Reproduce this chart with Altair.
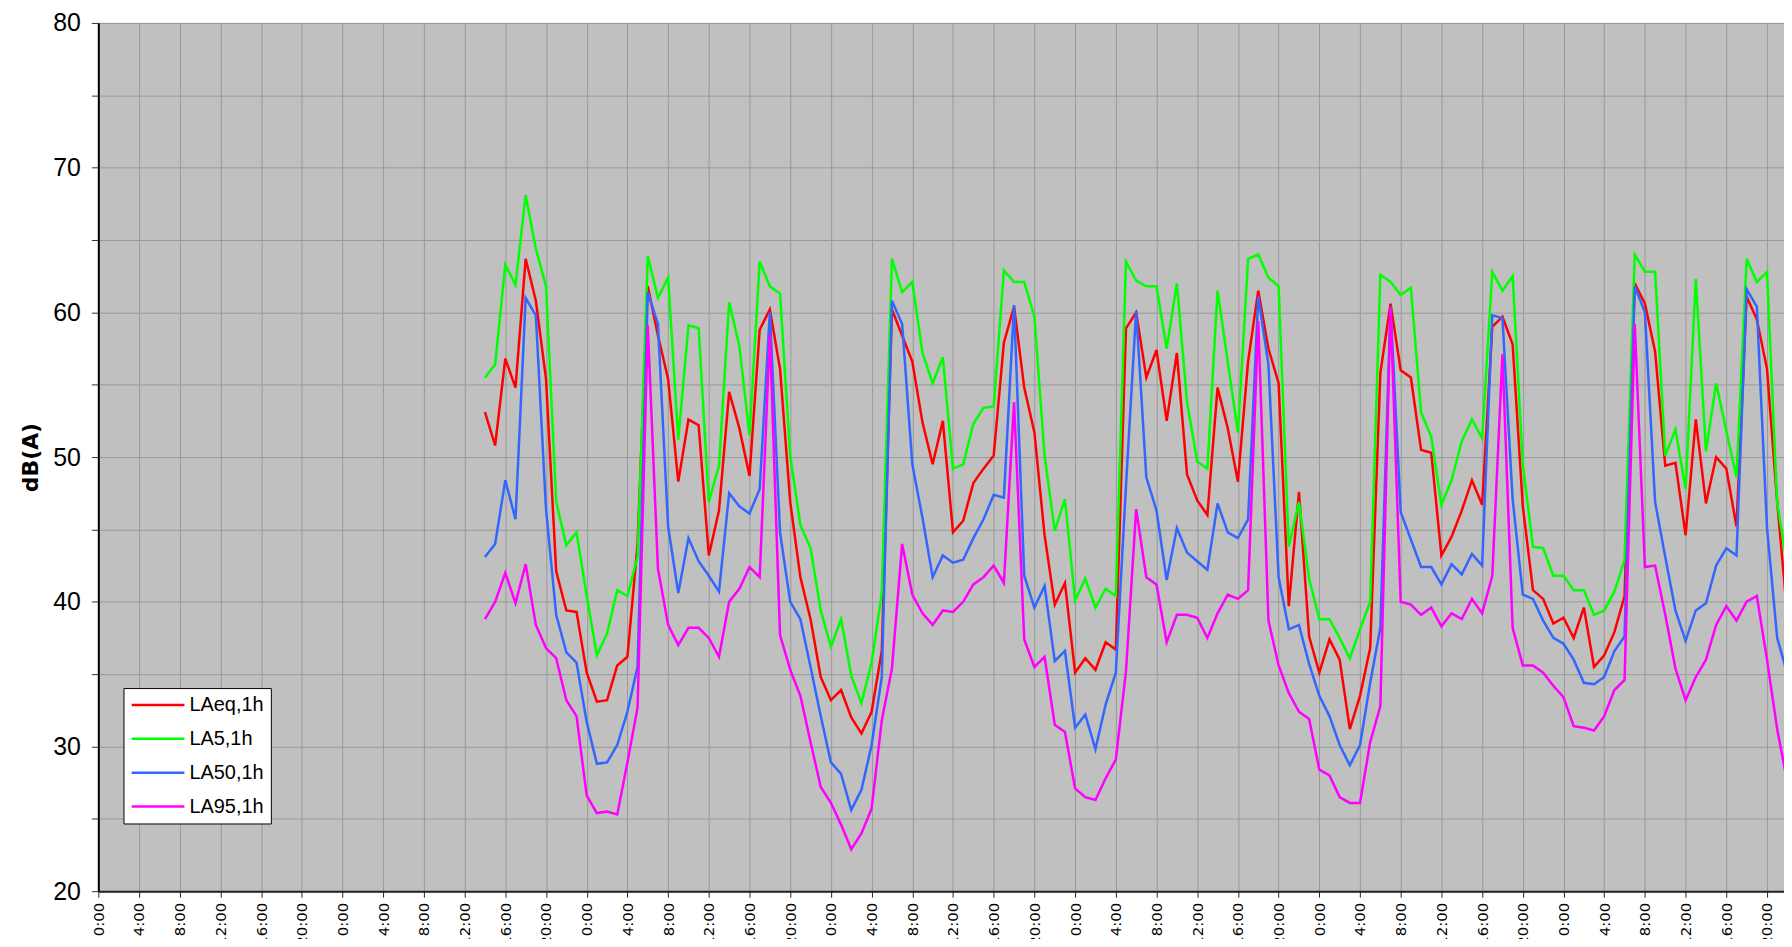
import altair as alt
import pandas as pd

hours = list(range(38, 167))

laeq = [
    53.1, 50.8, 56.8, 54.8, 63.7, 60.8, 55.4, 42.1, 39.4, 39.3,
    35.1, 33.1, 33.2, 35.6, 36.2, 44.0, 61.8, 58.4, 55.4, 48.3,
    52.6, 52.2, 43.2, 46.3, 54.5, 52.0, 48.7, 58.8, 60.2, 56.1,
    46.9, 41.7, 38.8, 34.8, 33.2, 33.9, 32.0, 30.9, 32.4, 36.6,
    60.2, 58.4, 56.6, 52.4, 49.5, 52.5, 44.8, 45.6, 48.2, 49.2,
    50.1, 57.9, 60.4, 54.8, 51.7, 44.6, 39.8, 41.3, 35.1, 36.1,
    35.3, 37.2, 36.7, 58.9, 60.0, 55.5, 57.4, 52.5, 57.2, 48.8,
    47.0, 46.0, 54.8, 52.0, 48.3, 56.6, 61.5, 57.5, 55.1, 39.7,
    47.6, 37.6, 35.1, 37.4, 36.0, 31.2, 33.5, 36.8, 55.8, 60.6,
    56.0, 55.5, 50.5, 50.3, 43.2, 44.5, 46.3, 48.4, 46.7, 59.0,
    59.7, 57.8, 46.6, 40.8, 40.2, 38.5, 38.9, 37.5, 39.6, 35.5,
    36.3, 37.9, 40.4, 62.0, 60.6, 57.3, 49.4, 49.6, 44.6, 52.6,
    46.8, 50.0, 49.2, 45.2, 61.1, 59.5, 56.1, 46.9, 39.0,
]

la5 = [
    55.5, 56.4, 63.3, 61.9, 68.1, 64.4, 61.8, 46.9, 43.9, 44.8,
    40.4, 36.3, 37.8, 40.8, 40.4, 43.1, 63.9, 61.0, 62.4, 51.2,
    59.1, 58.9, 46.9, 49.4, 60.7, 57.7, 51.5, 63.5, 61.8, 61.3,
    50.1, 45.3, 43.7, 39.4, 36.9, 38.8, 34.9, 33.0, 35.8, 40.6,
    63.7, 61.4, 62.1, 57.2, 55.1, 56.9, 49.2, 49.5, 52.3, 53.4,
    53.5, 62.9, 62.1, 62.1, 59.7, 50.1, 44.9, 47.1, 40.1, 41.6,
    39.6, 40.9, 40.4, 63.5, 62.2, 61.8, 61.8, 57.5, 62.0, 53.8,
    49.7, 49.2, 61.5, 56.6, 51.7, 63.7, 64.0, 62.4, 61.8, 43.8,
    46.9, 41.6, 38.8, 38.8, 37.5, 36.1, 38.1, 40.0, 62.6, 62.1,
    61.2, 61.7, 53.1, 51.4, 46.7, 48.4, 51.1, 52.6, 51.3, 62.8,
    61.5, 62.5, 49.5, 43.8, 43.7, 41.8, 41.8, 40.8, 40.8, 39.1,
    39.4, 40.7, 42.9, 64.0, 62.8, 62.8, 50.1, 51.9, 47.8, 62.3,
    50.4, 55.1, 51.8, 48.6, 63.7, 62.1, 62.8, 46.8, 42.5,
]

la50 = [
    43.1, 44.0, 48.4, 45.7, 61.0, 59.8, 46.4, 39.1, 36.5, 35.8,
    31.7, 28.8, 28.9, 30.1, 32.4, 35.5, 61.4, 59.2, 45.2, 40.6,
    44.4, 42.8, 41.8, 40.7, 47.5, 46.6, 46.1, 47.8, 60.0, 44.8,
    40.0, 38.8, 35.5, 32.1, 28.9, 28.1, 25.6, 27.0, 30.1, 34.8,
    60.8, 59.2, 49.5, 45.8, 41.7, 43.2, 42.7, 42.9, 44.4, 45.7,
    47.4, 47.2, 60.5, 41.8, 39.6, 41.1, 35.9, 36.6, 31.3, 32.2,
    29.8, 32.9, 35.1, 48.0, 60.1, 48.6, 46.3, 41.5, 45.1, 43.4,
    42.8, 42.2, 46.8, 44.8, 44.4, 45.7, 61.1, 56.4, 41.7, 38.1,
    38.4, 35.7, 33.5, 32.1, 30.1, 28.7, 30.1, 34.4, 38.2, 60.4,
    46.2, 44.3, 42.4, 42.4, 41.2, 42.6, 41.9, 43.3, 42.5, 59.8,
    59.6, 47.1, 40.5, 40.2, 38.7, 37.5, 37.1, 36.0, 34.4, 34.3,
    34.8, 36.6, 37.6, 61.8, 60.0, 46.9, 43.1, 39.4, 37.3, 39.4,
    39.9, 42.5, 43.7, 43.2, 61.6, 60.4, 45.1, 37.5, 35.0,
]

la95 = [
    38.8, 40.0, 42.0, 39.9, 42.6, 38.4, 36.8, 36.1, 33.2, 32.1,
    26.6, 25.4, 25.5, 25.3, 28.9, 32.7, 59.1, 42.3, 38.4, 37.0,
    38.2, 38.2, 37.5, 36.2, 40.0, 40.9, 42.4, 41.7, 58.5, 37.7,
    35.3, 33.5, 30.3, 27.2, 26.1, 24.6, 22.9, 24.0, 25.7, 31.8,
    35.4, 44.0, 40.5, 39.2, 38.4, 39.4, 39.3, 40.0, 41.2, 41.7,
    42.5, 41.3, 53.8, 37.4, 35.5, 36.2, 31.5, 31.0, 27.1, 26.5,
    26.3, 27.8, 29.1, 35.2, 46.4, 41.7, 41.2, 37.2, 39.1, 39.1,
    38.9, 37.5, 39.2, 40.5, 40.2, 40.8, 59.4, 38.7, 35.6, 33.7,
    32.4, 31.9, 28.4, 28.0, 26.5, 26.1, 26.1, 30.3, 32.8, 60.3,
    40.0, 39.8, 39.1, 39.6, 38.3, 39.2, 38.8, 40.2, 39.2, 41.8,
    57.1, 38.2, 35.6, 35.6, 35.1, 34.2, 33.4, 31.4, 31.3, 31.1,
    32.1, 33.9, 34.6, 59.2, 42.4, 42.5, 39.1, 35.4, 33.2, 34.8,
    36.0, 38.4, 39.7, 38.7, 40.0, 40.4, 36.0, 31.2, 27.5,
]

series_names = ["LAeq,1h", "LA5,1h", "LA50,1h", "LA95,1h"]
series_colors = ["#FF0000", "#00FF00", "#3366FF", "#FF00FF"]
tick_hours = list(range(0, 165, 4))
y_ticks = list(range(20, 81, 5))

rows = []
for order, (name, vals) in enumerate(zip(series_names, [laeq, la5, la50, la95])):
    for h, v in zip(hours, vals):
        rows.append({"hour": h, "value": v, "series": name, "order": order})
df = pd.DataFrame(rows)

chart = alt.Chart(df).mark_line(strokeWidth=2.5, clip=True).encode(
    x=alt.X(
        "hour:Q",
        scale=alt.Scale(domain=[0, 165.67], nice=False, zero=False),
        axis=alt.Axis(
            values=tick_hours,
            labelExpr="(datum.value % 24) + ':00'",
            labelAngle=270,
            labelAlign="right",
            labelBaseline="middle",
            labelPadding=5,
            tickSize=6,
            title=None,
            labelFont="DejaVu Sans",
            labelFontSize=15,
            labelColor="black",
            labelOverlap=False,
            labelFlush=False,
            grid=True,
            gridColor="#999999",
            domainColor="#222222",
            domainWidth=2,
            tickColor="#222222",
        ),
    ),
    y=alt.Y(
        "value:Q",
        scale=alt.Scale(domain=[20, 80], nice=False, zero=False),
        axis=alt.Axis(
            values=y_ticks,
            labelExpr="datum.value % 10 == 0 ? datum.label : ''",
            labelFont="Liberation Sans",
            labelFontSize=25,
            labelColor="black",
            labelPadding=11,
            labelFlush=False,
            tickSize=7,
            tickColor="#333333",
            domainColor="#000000",
            domainWidth=2,
            grid=True,
            gridColor="#999999",
            title="dB(A)",
            titleFont="DejaVu Sans",
            titleFontWeight="bold",
            titleFontSize=22,
            titleColor="black",
            titleAngle=270,
            titleAlign="center",
            titleBaseline="middle",
            titleX=-67.7,
            titleY=436,
        ),
    ),
    color=alt.Color(
        "series:N",
        scale=alt.Scale(domain=series_names, range=series_colors),
        legend=alt.Legend(
            orient="none",
            legendX=25.3,
            legendY=668,
            title=None,
            direction="vertical",
            symbolType="M-5,0H5",
            symbolSize=112,
            symbolStrokeWidth=2.5,
            symbolOffset=17.7,
            labelOffset=21.5,
            labelFont="Liberation Sans",
            labelFontSize=20,
            labelColor="black",
            labelLimit=300,
            padding=7,
            rowPadding=14,
            fillColor="white",
            strokeColor="black",
            cornerRadius=0,
        ),
    ),
    order=alt.Order("order:Q"),
).properties(
    width=1693,
    height=872,
    autosize=alt.AutoSizeParams(type="none"),
    padding={"left": 90.7, "top": 13, "right": 0, "bottom": 46},
).configure_view(
    fill="#C0C0C0",
    stroke="#808080",
    strokeWidth=1,
)

chart.save("out.html", embed_options={"renderer": "svg", "actions": False})
